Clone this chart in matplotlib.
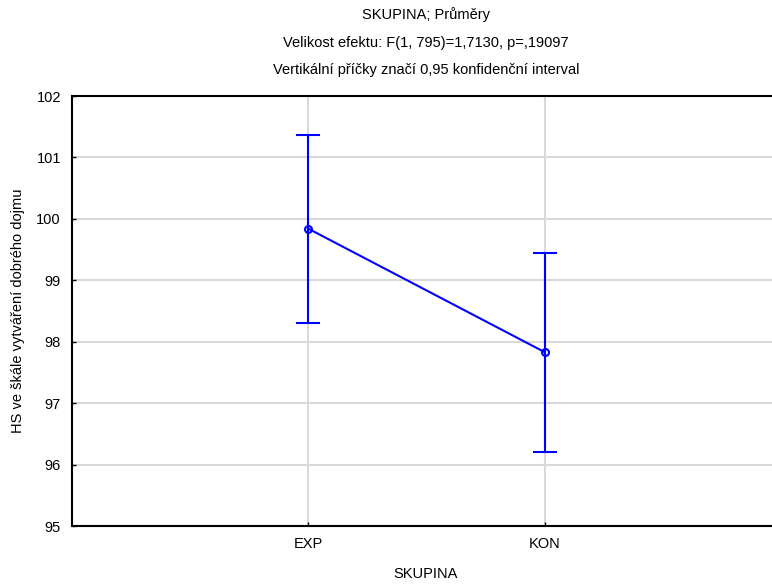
import matplotlib
matplotlib.use("Agg")
import matplotlib.pyplot as plt

categories = ["EXP", "KON"]
means = [99.84, 97.83]
upper = [101.37, 99.45]
lower = [98.30, 96.20]
yticks = [95, 96, 97, 98, 99, 100, 101, 102]

plt.rcParams['font.family'] = ['Liberation Sans', 'DejaVu Sans']

W, H = 772, 585
fig = plt.figure(figsize=(W / 100, H / 100), dpi=100)
left, right, top, bottom = 72, 781, 96, 526
ax = fig.add_axes([left / W, 1 - bottom / H, (right - left) / W, (bottom - top) / H])

x = [1, 2]
yerr = [[m - l for m, l in zip(means, lower)], [u - m for u, m in zip(upper, means)]]
ax.errorbar(x, means, yerr=yerr, color='#0000ff', lw=1.5, elinewidth=1.5,
            capsize=8.3, capthick=1.5, marker='o', ms=5, mfc='none', mec='#0000ff',
            mew=1.5, zorder=3)

ax.set_xlim(0, 3)
ax.set_ylim(95, 102)
ax.set_yticks(yticks)
ax.set_xticks(x)
ax.set_xticklabels(categories)
ax.grid(True, color='#d9d9d9', lw=1.5, zorder=0)
ax.set_axisbelow(True)
for s in ax.spines.values():
    s.set_linewidth(1.5)
ax.tick_params(direction='in', length=3, width=1, labelsize=10.5, pad=8)

fig.text(426 / W, 1 - 574 / H, "SKUPINA", ha='center', va='center', fontsize=10.5)
fig.text(18 / W, 1 - 311 / H, "HS ve škále vytváření dobrého dojmu", rotation=90,
         ha='center', va='center', fontsize=10.5)

fig.text(426 / W, 1 - 15 / H, "SKUPINA; Průměry", ha='center', va='center', fontsize=10.5)
fig.text(426 / W, 1 - 43 / H, "Velikost efektu: F(1, 795)=1,7130, p=,19097", ha='center', va='center', fontsize=10.5)
fig.text(426 / W, 1 - 70 / H, "Vertikální příčky značí 0,95 konfidenční interval", ha='center', va='center', fontsize=10.5)

fig.savefig("out.png", dpi=100)
